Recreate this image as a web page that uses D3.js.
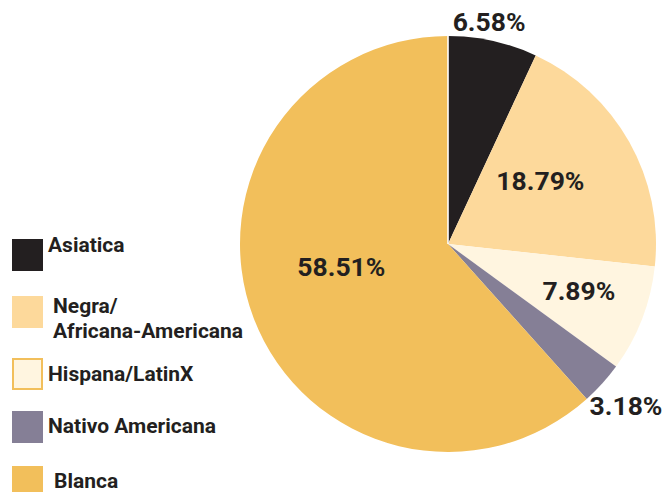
<!DOCTYPE html>
<html>
<head>
<meta charset="utf-8">
<script src="https://cdn.jsdelivr.net/npm/d3@7"></script>
<style>
  body { margin: 0; background: #fff; }
  text { font-family: Roboto, "Noto Sans", sans-serif; font-weight: bold; fill: #231f20; }
</style>
</head>
<body>
<div id="chart"></div>
<script>
var svgWidth = 665;
var svgHeight = 492;

// data
var categories = ["Asiatica", "Negra/Africana-Americana", "Hispana/LatinX", "Nativo Americana", "Blanca"];
var values = [6.58, 18.79, 7.89, 3.18, 58.51];
var colors = ["#231f20", "#fdd99b", "#fff5e0", "#857f96", "#f2bf5b"];
var legendLines = [["Asiatica"], ["Negra/", "Africana-Americana"], ["Hispana/LatinX"], ["Nativo Americana"], ["Blanca"]];

// label placement (radius from centre, angle tweak in degrees)
var labelRadius = [226, 112, 139, 240, 109];
var labelAngleShift = [-2, -5, -1.5, 0, 9];

var cx = 448, cy = 244, radius = 208;

var svg = d3.select("#chart")
  .append("svg")
  .attr("width", svgWidth)
  .attr("height", svgHeight);

var pie = d3.pie().sort(null).value(d => d);
var arcs = pie(values);

var arc = d3.arc().innerRadius(0).outerRadius(radius);

var pieGroup = svg.append("g")
  .attr("transform", `translate(${cx}, ${cy})`);

pieGroup.selectAll("path")
  .data(arcs)
  .enter()
  .append("path")
  .attr("d", arc)
  .attr("fill", (d, i) => colors[i]);

// thin white seam at the top
pieGroup.append("line")
  .attr("x1", 0).attr("y1", 0)
  .attr("x2", 0).attr("y2", -radius - 1)
  .attr("stroke", "#fff")
  .attr("stroke-width", 1.6);

pieGroup.selectAll("text.pct")
  .data(arcs)
  .enter()
  .append("text")
  .attr("class", "pct")
  .attr("text-anchor", "middle")
  .attr("dy", "0.36em")
  .style("font-size", "26.5px")
  .attr("x", (d, i) => {
    var a = (d.startAngle + d.endAngle) / 2 + labelAngleShift[i] * Math.PI / 180;
    return labelRadius[i] * Math.sin(a);
  })
  .attr("y", (d, i) => {
    var a = (d.startAngle + d.endAngle) / 2 + labelAngleShift[i] * Math.PI / 180;
    return -labelRadius[i] * Math.cos(a);
  })
  .text(d => d.data.toFixed(2) + "%");

// legend
var legendY = [239, 296, 358, 411, 466];
var legendTextX = [48, 53, 48, 48, 54];
var legendBaseline = [252, 313, 381, 433, 488];

var legend = svg.append("g");

legend.selectAll("rect")
  .data(categories)
  .enter()
  .append("rect")
  .attr("x", (d, i) => i === 2 ? 13 : 12)
  .attr("y", (d, i) => legendY[i] + (i === 2 ? 1 : 0))
  .attr("width", (d, i) => i === 2 ? 29 : 31)
  .attr("height", (d, i) => i === 2 ? 30 : 32)
  .attr("fill", (d, i) => colors[i])
  .attr("stroke", (d, i) => i === 2 ? "#f2bf5b" : "none")
  .attr("stroke-width", 2);

legend.selectAll("text")
  .data(categories)
  .enter()
  .append("text")
  .attr("x", (d, i) => legendTextX[i])
  .attr("y", (d, i) => legendBaseline[i])
  .style("font-size", "21px")
  .each(function(d, i) {
    var t = d3.select(this);
    legendLines[i].forEach(function(line, j) {
      t.append("tspan")
        .attr("x", legendTextX[i])
        .attr("dy", j === 0 ? 0 : 25)
        .text(line);
    });
  });
</script>
</body>
</html>
